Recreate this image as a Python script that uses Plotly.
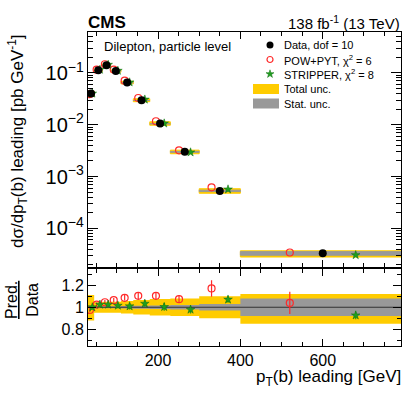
import numpy as np
import plotly.graph_objects as go

bin_edges = [30, 45, 65, 85, 110, 140, 180, 230, 300, 400, 800]
data_xsec = [0.0401, 0.113, 0.141, 0.109, 0.0653, 0.0298, 0.0106, 0.0030, 5.3e-4, 3.3e-5]

# predictions as ratio to data
powpyt_ratio = [0.976, 1.024, 1.045, 1.064, 1.085, 1.103, 1.103, 1.073, 1.17, 1.039]
powpyt_err = [0.02, 0.02, 0.02, 0.02, 0.025, 0.03, 0.03, 0.035, 0.075, 0.10]
stripper_ratio = [1.0, 1.024, 1.024, 1.015, 1.009, 1.033, 1.003, 0.979, 1.07, 0.927]
stripper_err = [0.02, 0.02, 0.025, 0.025, 0.03, 0.03, 0.035, 0.035, 0.03, 0.035]

# relative uncertainties of the data
tot_unc_up = [0.11, 0.045, 0.05, 0.05, 0.057, 0.065, 0.075, 0.08, 0.10, 0.12]
tot_unc_dn = [0.12, 0.05, 0.05, 0.05, 0.057, 0.065, 0.075, 0.08, 0.10, 0.15]
stat_unc = [0.01, 0.01, 0.01, 0.01, 0.012, 0.013, 0.015, 0.02, 0.03, 0.08]

FONT = "Liberation Sans, Arial, Helvetica, sans-serif"
GOLD = "#ffcc00"
GREY = "#999999"
RED = "#ff2a2a"
GREEN = "#1f9e1f"
STAR = dict(symbol="star", size=6.5, color=GREEN, line=dict(width=0.5, color="#0d6e0d"))
CIRC = dict(symbol="circle-open", size=7, color=RED, line=dict(width=1.2))

edges = np.array(bin_edges, dtype=float)
lo, hi = edges[:-1], edges[1:]
centers = (lo + hi) / 2
widths = hi - lo
data = np.array(data_xsec)
pow_r = np.array(powpyt_ratio)
str_r = np.array(stripper_ratio)
up = np.array(tot_unc_up)
dn = np.array(tot_unc_dn)
st = np.array(stat_unc)


def boxes(x0, x1, y0, y1):
    xs, ys = [], []
    for a, b, c, d in zip(x0, x1, y0, y1):
        xs += [a, b, b, a, a, None]
        ys += [c, c, d, d, c, None]
    return xs, ys


fig = go.Figure()

# ---- top panel ----
for y0, y1, col in [(data * (1 - dn), data * (1 + up), GOLD),
                    (data * (1 - st), data * (1 + st), GREY)]:
    bx, by = boxes(lo, hi, y0, y1)
    fig.add_trace(go.Scatter(x=bx, y=by, mode="lines", fill="toself", fillcolor=col,
                             line=dict(color=col, width=1), xaxis="x", yaxis="y",
                             hoverinfo="skip", showlegend=False))

fig.add_trace(go.Scatter(x=centers - 0.2 * widths, y=data * pow_r, mode="markers", marker=CIRC,
                         xaxis="x", yaxis="y", showlegend=False))
fig.add_trace(go.Scatter(x=centers + 0.2 * widths, y=data * str_r, mode="markers", marker=STAR,
                         xaxis="x", yaxis="y", showlegend=False))
fig.add_trace(go.Scatter(x=centers, y=data, mode="markers",
                         marker=dict(symbol="circle", size=8, color="black"),
                         xaxis="x", yaxis="y", showlegend=False))

# ---- ratio panel ----
for y0, y1, col in [(1 - dn, 1 + up, GOLD), (1 - st, 1 + st, GREY)]:
    bx, by = boxes(lo, hi, y0, y1)
    fig.add_trace(go.Scatter(x=bx, y=by, mode="lines", fill="toself", fillcolor=col,
                             line=dict(width=0), xaxis="x2", yaxis="y2",
                             hoverinfo="skip", showlegend=False))

fig.add_trace(go.Scatter(x=[bin_edges[0], bin_edges[-1]], y=[1, 1], mode="lines",
                         line=dict(color="#333333", width=1.2), xaxis="x2", yaxis="y2",
                         showlegend=False))
fig.add_trace(go.Scatter(x=centers - 0.2 * widths, y=pow_r, mode="markers", marker=CIRC,
                         error_y=dict(type="data", array=powpyt_err, color=RED, thickness=1.2, width=0),
                         xaxis="x2", yaxis="y2", showlegend=False))
fig.add_trace(go.Scatter(x=centers + 0.2 * widths, y=str_r, mode="markers", marker=STAR,
                         error_y=dict(type="data", array=stripper_err, color=GREEN, thickness=1.2, width=0),
                         xaxis="x2", yaxis="y2", showlegend=False))

# ---- hand-made legend (pixel coordinates on an invisible overlay axis) ----
fig.add_trace(go.Scatter(x=[270], y=[45], mode="markers", marker=dict(size=7, color="black"),
                         xaxis="x3", yaxis="y3", showlegend=False))
fig.add_trace(go.Scatter(x=[270], y=[59.5], mode="markers",
                         marker=dict(symbol="circle-open", size=6, color=RED, line=dict(width=1.2)),
                         xaxis="x3", yaxis="y3", showlegend=False))
fig.add_trace(go.Scatter(x=[270], y=[74], mode="markers", marker=dict(STAR, size=6),
                         xaxis="x3", yaxis="y3", showlegend=False))

L, R, T, B, W, H = 88, 6, 32, 48, 407, 394
PW, PH = W - L - R, H - T - B


def X(px):
    return (px - L) / PW


def Y(py):
    return (H - B - py) / PH


for py, col in [(89, GOLD), (103.5, GREY)]:
    fig.add_shape(type="rect", xref="paper", yref="paper", x0=X(253), x1=X(279),
                  y0=Y(py + 5), y1=Y(py - 5), fillcolor=col, line=dict(width=0))

legend_text = ["Data, dof = 10", "POW+PYT, χ<sup>2</sup> = 6", "STRIPPER, χ<sup>2</sup> = 8",
               "Total unc.", "Stat. unc."]
for txt, py in zip(legend_text, [45, 59.5, 74, 89, 103.5]):
    fig.add_annotation(x=X(282), y=Y(py), xref="paper", yref="paper", text=txt, showarrow=False,
                       xanchor="left", yanchor="middle", font=dict(size=11, color="black"))

fig.add_annotation(x=X(102), y=Y(46), xref="paper", yref="paper", text="Dilepton, particle level",
                   showarrow=False, xanchor="left", yanchor="middle", font=dict(size=13, color="black"))
fig.add_annotation(x=X(86), y=Y(22.5), xref="paper", yref="paper", text="<b>CMS</b>",
                   showarrow=False, xanchor="left", yanchor="middle", font=dict(size=17, color="black"))
fig.add_annotation(x=X(402), y=Y(22), xref="paper", yref="paper", text="138 fb<sup>-1</sup> (13 TeV)",
                   showarrow=False, xanchor="right", yanchor="middle", font=dict(size=15, color="black"))
fig.add_annotation(x=X(403), y=Y(378), xref="paper", yref="paper", text="p<sub>T</sub>(b) leading [GeV]",
                   showarrow=False, xanchor="right", yanchor="middle", font=dict(size=17, color="black"))
fig.add_annotation(x=X(17), y=Y(141), xref="paper", yref="paper",
                   text="dσ/dp<sub>T</sub>(b) leading [pb GeV<sup>-1</sup>]", textangle=-90,
                   showarrow=False, xanchor="center", yanchor="middle", font=dict(size=17, color="black"))
fig.add_annotation(x=X(22), y=Y(300), xref="paper", yref="paper", text="<u>Pred.</u><br>Data",
                   textangle=-90, showarrow=False, xanchor="center", yanchor="middle",
                   font=dict(size=16, color="black"))

axis_common = dict(showline=True, linecolor="black", linewidth=1, mirror="ticks", ticks="inside",
                   showgrid=False, zeroline=False, tickcolor="black",
                   tickfont=dict(size=16, color="black"))
ratio_top = (346 - 268.5) / PH
main_bottom = (346 - 267) / PH

fig.update_layout(
    width=W, height=H,
    margin=dict(l=L, r=R, t=T, b=B),
    paper_bgcolor="white", plot_bgcolor="rgba(0,0,0,0)",
    font=dict(family=FONT, color="black"),
    showlegend=False,
    xaxis=dict(axis_common, domain=[0, 1], anchor="y", range=[30, 790], showticklabels=False,
               tick0=0, dtick=200, ticklen=7,
               minor=dict(ticks="inside", dtick=50, tick0=0, ticklen=4, tickcolor="black")),
    yaxis=dict(axis_common, domain=[main_bottom, 1], anchor="x", type="log",
               range=[np.log10(1.8e-5), np.log10(0.617)], dtick=1, exponentformat="power",
               ticklen=10, minor=dict(ticks="inside", ticklen=5, tickcolor="black")),
    xaxis2=dict(axis_common, domain=[0, 1], anchor="y2", range=[30, 790], matches="x",
                tick0=0, dtick=200, ticklen=7,
                minor=dict(ticks="inside", dtick=50, tick0=0, ticklen=4, tickcolor="black")),
    yaxis2=dict(axis_common, domain=[0, ratio_top], anchor="x2", range=[0.65, 1.35],
                tickvals=[0.8, 1.0, 1.2], ticktext=["0.8", "1", "1.2"], ticklen=8,
                minor=dict(ticks="inside", tickvals=[0.7, 0.9, 1.1, 1.3], ticklen=4, tickcolor="black")),
    xaxis3=dict(domain=[0, 1], anchor="y3", range=[L, W - R], visible=False, fixedrange=True),
    yaxis3=dict(domain=[0, 1], anchor="x3", range=[H - B, T], visible=False, fixedrange=True),
)

fig.write_html("out.html", config={"displayModeBar": False},
               post_script="document.body.style.margin='0px';document.body.style.overflow='hidden';")
